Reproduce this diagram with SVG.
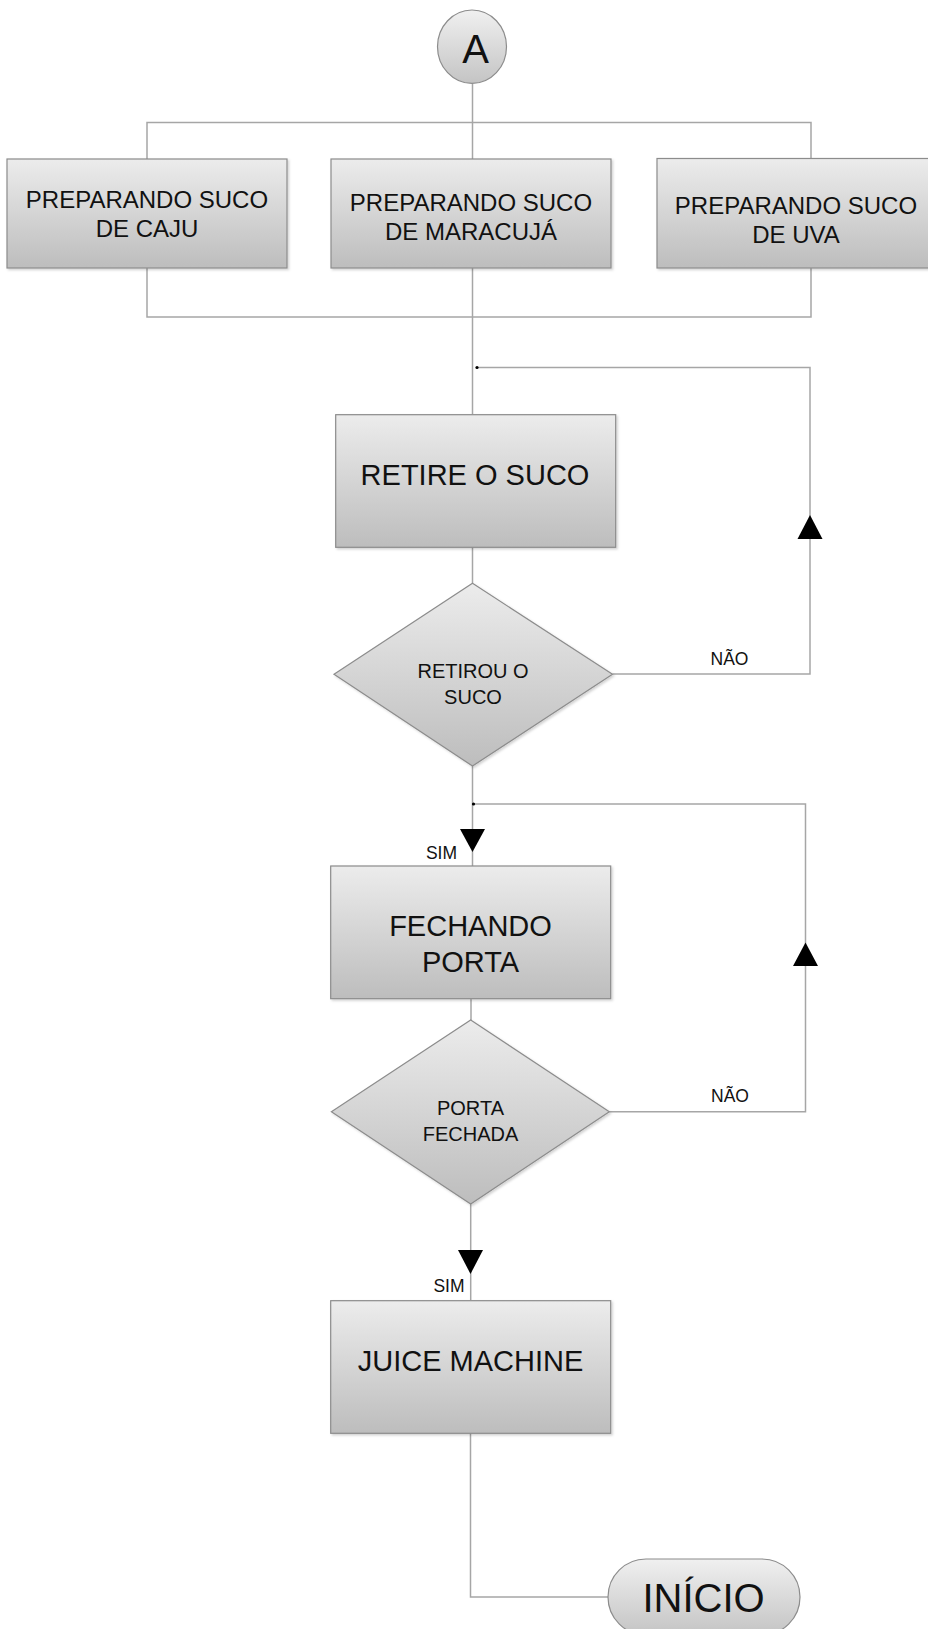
<svg xmlns="http://www.w3.org/2000/svg" width="928" height="1629" viewBox="0 0 928 1629">
  <defs>
    <linearGradient id="boxFill" x1="0" y1="0" x2="0" y2="1">
      <stop offset="0" stop-color="#ececec"/>
      <stop offset="1" stop-color="#bdbdbd"/>
    </linearGradient>
    <linearGradient id="termFill" x1="0" y1="0" x2="0" y2="1">
      <stop offset="0" stop-color="#f0f0f0"/>
      <stop offset="1" stop-color="#c4c4c4"/>
    </linearGradient>
    <filter id="shadow" x="-5%" y="-5%" width="115%" height="120%">
      <feDropShadow dx="1.5" dy="1.5" stdDeviation="1" flood-color="#000" flood-opacity="0.18"/>
    </filter>
  </defs>
  <style>
    .box { fill: url(#boxFill); stroke: #8c8c8c; stroke-width: 1.2; filter: url(#shadow); }
    .term { fill: url(#termFill); stroke: #8c8c8c; stroke-width: 1.2; }
    .line { fill: none; stroke: #a6a6a6; stroke-width: 1.5; }
    .head { fill: #000; }
    text { font-family: "Liberation Sans", Arial, sans-serif; fill: #111; text-anchor: middle; }
    .t23 { font-size: 24px; }
    .t29 { font-size: 29px; }
    .t20 { font-size: 20px; }
    .lbl { font-size: 17.5px; }
  </style>
  <rect width="928" height="1629" fill="#ffffff"/>

  <!-- connectors -->
  <g id="connectors">
    <!-- A to the three juice options and back together -->
    <path class="line" d="M472.5 83.5 V414"/>
    <path class="line" d="M147 159 V122.5 H811 V159"/>
    <path class="line" d="M147 268 V317 H811 V268"/>
    <!-- retire loop -->
    <path class="line" d="M472.5 547 V583"/>
    <path class="line" d="M612.5 674 H810 V367.5 H477"/>
    <circle class="head" cx="477" cy="367.5" r="1.6"/>
    <polygon class="head" points="797.5,539 822.5,539 810,515"/>
    <!-- porta loop -->
    <path class="line" d="M472.5 766 V866"/>
    <polygon class="head" points="460,829 485,829 472.5,852"/>
    <path class="line" d="M471 999 V1020"/>
    <path class="line" d="M609.3 1111.7 H805.5 V804 H473"/>
    <circle class="head" cx="473.5" cy="804" r="1.6"/>
    <polygon class="head" points="793,966 818,966 805.5,942.5"/>
    <!-- to juice machine -->
    <path class="line" d="M470.7 1204 V1300"/>
    <polygon class="head" points="458,1250 483,1250 470.5,1274"/>
    <!-- to INÍCIO -->
    <path class="line" d="M470.5 1433 V1597 H608"/>
    <text class="lbl" x="729.5" y="665">NÃO</text>
    <text class="lbl" x="441.5" y="859">SIM</text>
    <text class="lbl" x="730" y="1102">NÃO</text>
    <text class="lbl" x="449" y="1292">SIM</text>
  </g>

  <g id="node-a">
    <ellipse class="term" cx="472" cy="46.7" rx="34.5" ry="36.7"/>
    <text x="475.5" y="63" style="font-size:40px">A</text>
  </g>

  <g id="node-caju">
    <rect class="box" x="7" y="159" width="280" height="109"/>
    <text class="t23" x="147" y="207.5">PREPARANDO SUCO</text>
    <text class="t23" x="147" y="237">DE CAJU</text>
  </g>

  <g id="node-maracuja">
    <rect class="box" x="331" y="159" width="280" height="109"/>
    <text class="t23" x="471" y="210.5">PREPARANDO SUCO</text>
    <text class="t23" x="471" y="239.5">DE MARACUJÁ</text>
  </g>

  <g id="node-uva">
    <rect class="box" x="657" y="158.5" width="275" height="109.5"/>
    <text class="t23" x="796" y="213.5">PREPARANDO SUCO</text>
    <text class="t23" x="796" y="242.5">DE UVA</text>
  </g>

  <g id="node-retire">
    <rect class="box" x="335.7" y="414.7" width="280" height="132.6"/>
    <text class="t29" x="475" y="484.5">RETIRE O SUCO</text>
  </g>

  <g id="node-retirou">
    <polygon class="box" points="472.5,583.3 612.5,674.3 472.5,766 334,674.3"/>
    <text class="t20" x="473" y="678">RETIROU O</text>
    <text class="t20" x="473" y="703.5">SUCO</text>
  </g>

  <g id="node-fechando">
    <rect class="box" x="330.7" y="866" width="280" height="132.7"/>
    <text class="t29" x="470.5" y="936">FECHANDO</text>
    <text class="t29" x="470.5" y="972">PORTA</text>
  </g>

  <g id="node-porta-fechada">
    <polygon class="box" points="470.7,1020 609.3,1111.7 470.7,1204 331.4,1111.7"/>
    <text class="t20" x="470.5" y="1115">PORTA</text>
    <text class="t20" x="470.5" y="1141">FECHADA</text>
  </g>

  <g id="node-juice">
    <rect class="box" x="330.7" y="1300.7" width="280" height="132.6"/>
    <text class="t29" x="470.5" y="1371">JUICE MACHINE</text>
  </g>

  <g id="node-inicio">
    <rect class="term" x="608" y="1559" width="192" height="76" rx="38" ry="38"/>
    <text x="703.5" y="1612" style="font-size:40px">INÍCIO</text>
  </g>
</svg>
